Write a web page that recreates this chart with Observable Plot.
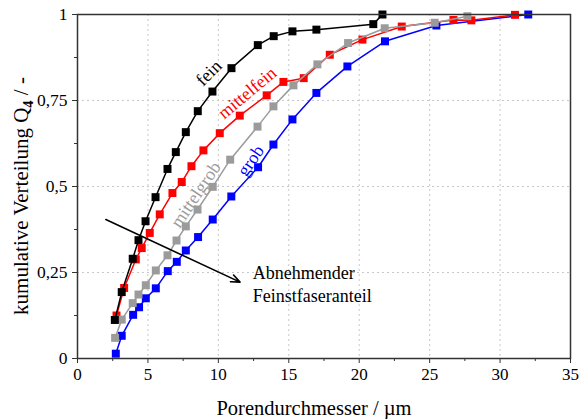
<!DOCTYPE html>
<html>
<head>
<meta charset="utf-8">
<script src="https://cdn.jsdelivr.net/npm/d3@7"></script>
<script src="https://cdn.jsdelivr.net/npm/@observablehq/plot@0.6"></script>
<style>
  html, body { margin: 0; padding: 0; background: #fff; }
  svg text { font-family: "Liberation Serif", "DejaVu Serif", serif; }
</style>
</head>
<body>
<div id="chart"></div>
<script>
// ---- data ----
const feinX = [2.65, 3.14, 3.92, 4.33, 4.83, 5.54, 6.39, 6.98, 7.69, 8.54, 9.58, 10.93, 12.8, 13.93, 15.26, 16.96, 21.0, 21.65];
const feinY = [0.112, 0.193, 0.29, 0.344, 0.399, 0.469, 0.551, 0.60, 0.658, 0.719, 0.776, 0.844, 0.911, 0.937, 0.951, 0.956, 0.972, 1.0];

const mittelfeinX = [2.77, 3.31, 4.14, 4.56, 5.13, 5.84, 6.74, 7.40, 8.09, 8.94, 10.10, 11.52, 13.43, 14.62, 16.06, 17.91, 20.23, 23.02, 26.69, 27.96, 31.06];
const mittelfeinY = [0.125, 0.205, 0.288, 0.321, 0.365, 0.419, 0.481, 0.513, 0.559, 0.605, 0.655, 0.706, 0.765, 0.804, 0.815, 0.883, 0.927, 0.965, 0.984, 0.983, 0.999];

const mittelgrobX = [2.67, 3.14, 3.92, 4.33, 4.85, 5.56, 6.39, 7.03, 7.69, 8.52, 9.60, 10.84, 12.78, 13.91, 15.33, 17.03, 19.21, 21.81, 25.36, 27.68];
const mittelgrobY = [0.06, 0.113, 0.161, 0.186, 0.213, 0.256, 0.30, 0.343, 0.384, 0.433, 0.499, 0.578, 0.674, 0.733, 0.794, 0.855, 0.917, 0.96, 0.976, 0.995];

const grobX = [2.72, 3.14, 3.95, 4.37, 4.85, 5.56, 6.41, 7.05, 7.69, 8.56, 9.60, 10.92, 12.82, 13.91, 15.26, 16.96, 19.16, 21.83, 25.48, 32.0];
const grobY = [0.014, 0.066, 0.127, 0.149, 0.175, 0.204, 0.254, 0.281, 0.314, 0.353, 0.404, 0.471, 0.556, 0.622, 0.695, 0.772, 0.849, 0.922, 0.968, 1.0];

const seriesNames = ["grob", "mittelfein", "mittelgrob", "fein"];
const seriesColors = ["#0000ff", "#ff0000", "#9b9b9b", "#000000"];

const xTicks = [0, 5, 10, 15, 20, 25, 30, 35];
const xMinorTicks = [2.5, 7.5, 12.5, 17.5, 22.5, 27.5, 32.5];
const yTicks = [0, 0.25, 0.5, 0.75, 1];
const yTickLabels = ["0", "0,25", "0,5", "0,75", "1"];
const yMinorTicks = [0.125, 0.375, 0.625, 0.875];

// curve labels
const labelText = ["fein", "mittelfein", "mittelgrob", "grob"];
const labelX = [9.32, 12.05, 8.4, 12.3];
const labelY = [0.83, 0.772, 0.476, 0.575];
const labelAngle = [-45, -40, -56, -56];
const labelColor = ["#000000", "#ff0000", "#9b9b9b", "#0000ff"];

// annotation arrow and text
const arrowFrom = [2.01, 0.404];
const arrowTo = [11.54, 0.222];
const noteLines = ["Abnehmender", "Feinstfaseranteil"];
const noteX = [12.44, 12.44];
const noteY = [0.249, 0.181];

const xTitle = "Porendurchmesser / µm";
const yTitleMain = "kumulative Verteilung Q";
const yTitleSub = "4";
const yTitleEnd = " / -";

// ---- build tables ----
const seriesX = {fein: feinX, mittelfein: mittelfeinX, mittelgrob: mittelgrobX, grob: grobX};
const seriesY = {fein: feinY, mittelfein: mittelfeinY, mittelgrob: mittelgrobY, grob: grobY};
const rows = [];
seriesNames.forEach((name, si) => {
  seriesX[name].forEach((x, i) => rows.push({name, color: seriesColors[si], x, y: seriesY[name][i]}));
});
const labels = labelText.map((t, i) => ({t, x: labelX[i], y: labelY[i], a: labelAngle[i], c: labelColor[i]}));
const notes = noteLines.map((t, i) => ({t, x: noteX[i], y: noteY[i]}));
const arrowData = [{x1: arrowFrom[0], y1: arrowFrom[1], x2: arrowTo[0], y2: arrowTo[1]}];

const font = "'Liberation Serif', 'DejaVu Serif', serif";

const marks = [
  Plot.gridX(xTicks.slice(1, -1), {stroke: "#c8c8c8", strokeOpacity: 1, strokeDasharray: "2,3"}),
  Plot.gridY(yTicks.slice(1, -1), {stroke: "#c8c8c8", strokeOpacity: 1, strokeDasharray: "2,3"}),
  Plot.axisX(xTicks, {tickSize: 5, tickPadding: 4, fontSize: 17, label: null, stroke: "#333"}),
  Plot.axisX(xMinorTicks, {tickSize: 3, tickFormat: () => "", label: null, stroke: "#333"}),
  Plot.axisY(yTicks, {tickSize: 5, tickPadding: 5, fontSize: 17.5, label: null, stroke: "#333",
    tickFormat: d => yTickLabels[yTicks.indexOf(d)]}),
  Plot.axisY(yMinorTicks, {tickSize: 3, tickFormat: () => "", label: null, stroke: "#333"})
];
seriesNames.forEach((name, si) => {
  const data = rows.filter(r => r.name === name);
  marks.push(Plot.line(data, {x: "x", y: "y", stroke: seriesColors[si], strokeWidth: 1.5}));
  marks.push(Plot.dot(data, {x: "x", y: "y", symbol: "square", r: 4.5, fill: seriesColors[si], stroke: "none"}));
});
marks.push(
  Plot.arrow(arrowData, {x1: "x1", y1: "y1", x2: "x2", y2: "y2", stroke: "#000", strokeWidth: 1.6, headLength: 9, headAngle: 45}),
  Plot.text(labels, {x: "x", y: "y", text: "t", rotate: "a", fill: "c", fontSize: 18}),
  Plot.text(notes, {x: "x", y: "y", text: "t", textAnchor: "start", fill: "#000", fontSize: 18}),
  Plot.frame({stroke: "#333", strokeWidth: 1.5})
);

const chart = Plot.plot({
  width: 580,
  height: 419,
  marginLeft: 77,
  marginRight: 10,
  marginTop: 14,
  marginBottom: 61,
  x: {domain: [0, 35]},
  y: {domain: [0, 1]},
  color: {type: "identity"},
  style: {fontFamily: font, fontSize: "16px", color: "#000", background: "#fff", overflow: "visible"},
  marks
});

document.getElementById("chart").appendChild(chart);

const svg = d3.select(chart);
svg.append("text")
  .attr("x", 314).attr("y", 415)
  .attr("text-anchor", "middle")
  .attr("font-size", 20.5).attr("fill", "#000")
  .text(xTitle);

const titleCenterY = 196;
const yt = svg.append("text")
  .attr("transform", `translate(28,${titleCenterY}) rotate(-90)`)
  .attr("text-anchor", "middle")
  .attr("font-size", 21).attr("fill", "#000");
yt.append("tspan").text(yTitleMain);
yt.append("tspan").attr("dy", 5).attr("font-size", 14.5).attr("font-weight", "bold").text(yTitleSub);
yt.append("tspan").attr("dy", -5).text(yTitleEnd);

// centre the rotated title's measured extent on titleCenterY
const bb = yt.node().getBBox();
if (bb.width > 0) {
  const mid = bb.x + bb.width / 2;
  yt.attr("transform", `translate(28,${titleCenterY + mid}) rotate(-90)`);
}
</script>
</body>
</html>
